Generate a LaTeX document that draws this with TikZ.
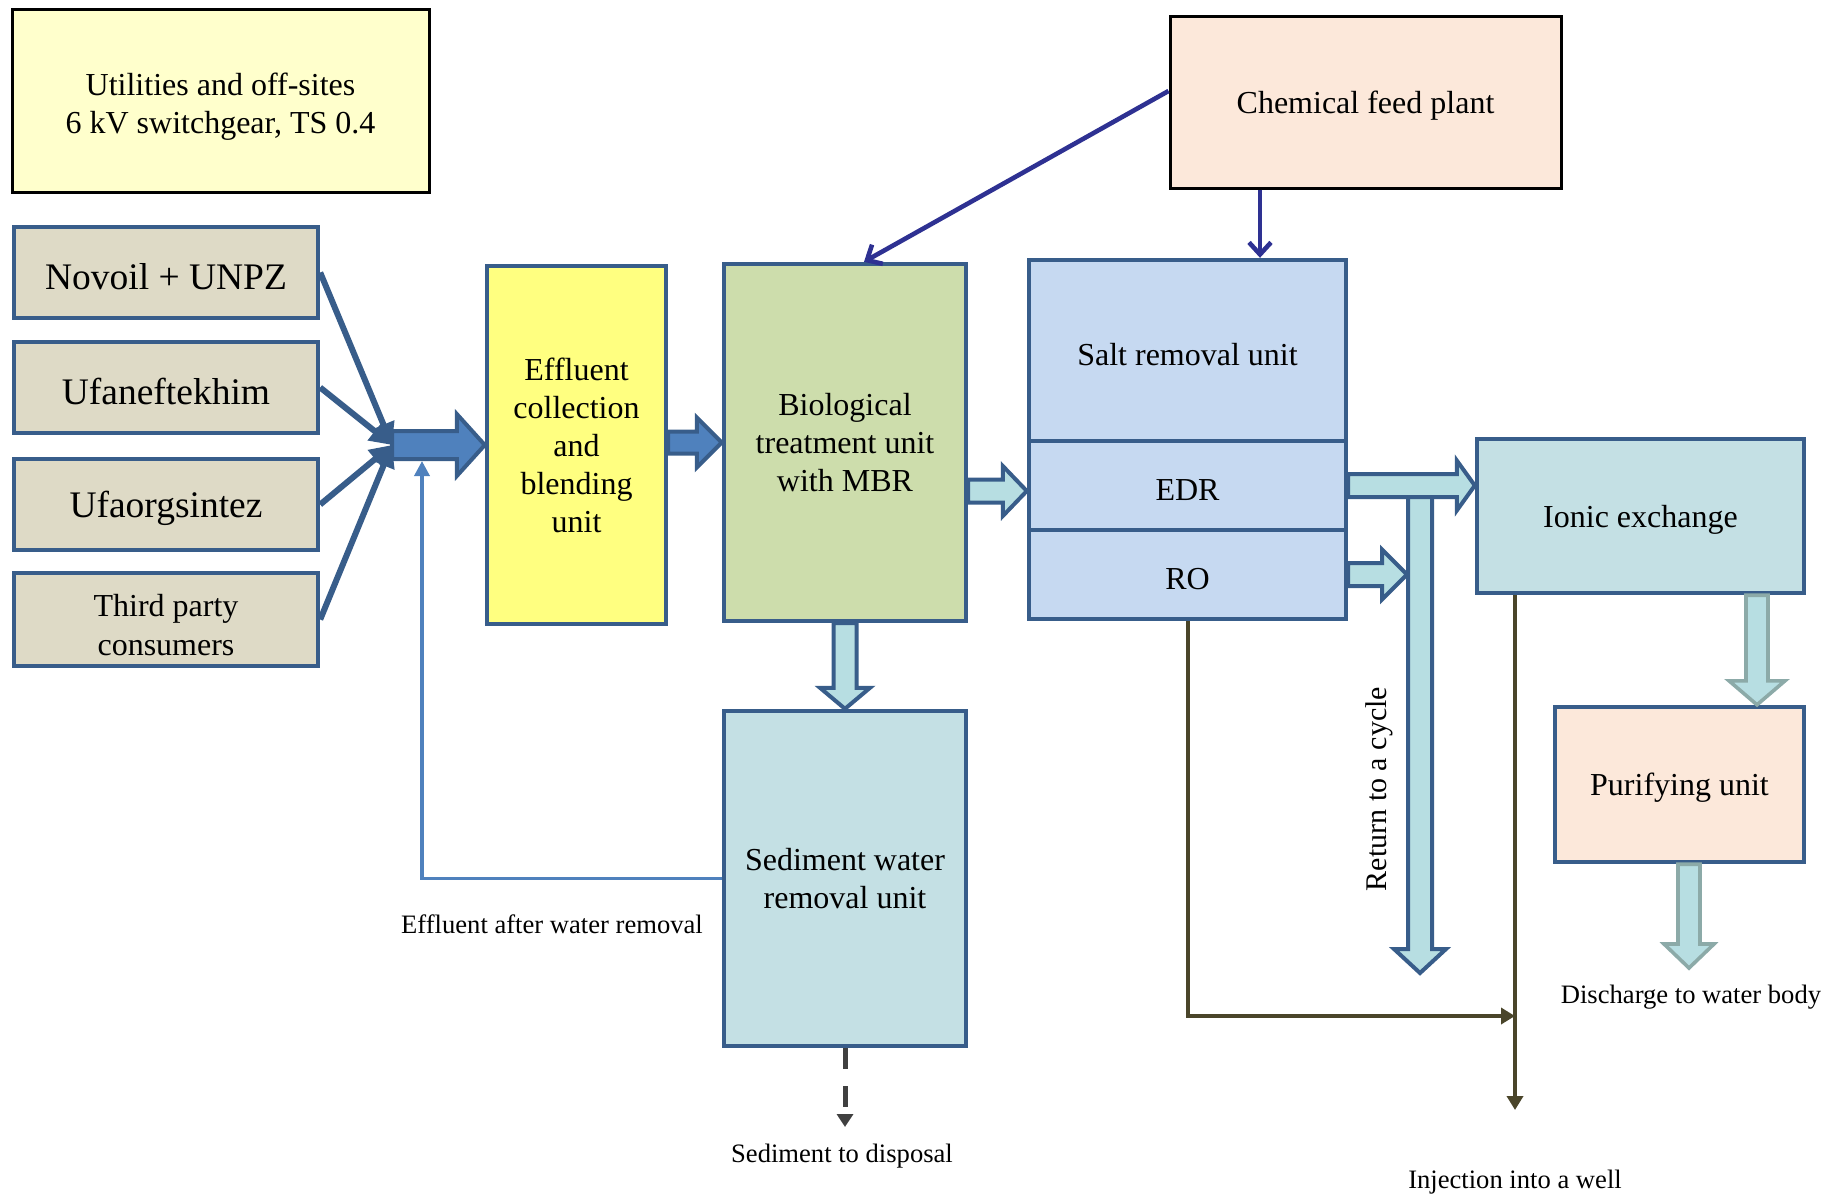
\documentclass[tikz,border=0pt]{standalone}
\usepackage{fontspec}
\setmainfont{Liberation Serif}
\usetikzlibrary{calc,arrows.meta}

\definecolor{boxline}{RGB}{56,93,138}
\definecolor{utilfill}{RGB}{255,255,204}
\definecolor{srcfill}{RGB}{222,218,198}
\definecolor{yelfill}{RGB}{255,255,128}
\definecolor{biofill}{RGB}{205,221,172}
\definecolor{saltfill}{RGB}{198,217,241}
\definecolor{sedfill}{RGB}{196,224,228}
\definecolor{peach}{RGB}{252,232,218}
\definecolor{bluefill}{RGB}{79,129,189}
\definecolor{palefill}{RGB}{183,222,226}
\definecolor{tealedge}{RGB}{140,170,168}
\definecolor{chemblue}{RGB}{46,49,146}
\definecolor{drainbrown}{RGB}{74,69,42}
\definecolor{sedgray}{RGB}{64,64,64}

\begin{document}
\begin{tikzpicture}[x=0.5pt,y=-0.5pt,
  box/.style={draw=boxline,line width=2.2pt,align=center,inner sep=0pt,
    font=\fontsize{16}{19}\selectfont,
    execute at begin node=\rule{0pt}{0.93em}},
  srcbox/.style={box,fill=srcfill,minimum width=152pt,minimum height=45.5pt},
  lbl/.style={font=\fontsize{13.3}{16}\selectfont},
  dark/.style={draw=boxline,line width=2pt,fill=bluefill,line join=miter},
  pale/.style={draw=boxline,line width=2pt,fill=palefill,line join=miter},
  teal/.style={draw=tealedge,line width=1.8pt,fill=palefill,line join=miter},
  feed/.style={draw=boxline,line width=3pt,-{Triangle[length=11pt,width=11pt]}},
  chemline/.style={draw=chemblue,line width=2.3pt,-{Straight Barb[length=6pt,width=11pt]}},
  drain/.style={draw=drainbrown,line width=2pt,-{Triangle[length=7pt,width=8pt]}},
  fbline/.style={draw=bluefill,line width=1.75pt,-{Triangle[length=7.5pt,width=7.5pt]}},
  sedline/.style={draw=sedgray,line width=2.5pt,dash pattern=on 10.5pt off 8.5pt,
    -{Triangle[length=6.5pt,width=8pt]}}
]

% block arrows: style, from, to, shaft half, head half, head length
\newcommand{\rblock}[6]{\draw[#1] let \p1=(#2), \p2=(#3) in
  (\x1,\y1+#4) -- (\x2-#6,\y1+#4) -- (\x2-#6,\y1+#5) -- (\x2,\y1)
  -- (\x2-#6,\y1-#5) -- (\x2-#6,\y1-#4) -- (\x1,\y1-#4) -- cycle;}
\newcommand{\dblock}[6]{\draw[#1] let \p1=(#2), \p2=(#3) in
  (\x1-#4,\y1) -- (\x1-#4,\y2+#6) -- (\x1-#5,\y2+#6) -- (\x1,\y2)
  -- (\x1+#5,\y2+#6) -- (\x1+#4,\y2+#6) -- (\x1+#4,\y1) -- cycle;}

\useasboundingbox (0,0) rectangle (1831,1195);

\node[box,fill=utilfill,draw=black,line width=1.5pt,minimum width=208.5pt,minimum height=91.5pt]
  (util) at (220.5,100.5) {\rule{0pt}{1.1em}Utilities and off-sites\\6 kV switchgear, TS 0.4};

\node[srcbox,font=\fontsize{18.75}{22}\selectfont] (novoil) at (166,272.5) {Novoil + UNPZ};
\node[srcbox,font=\fontsize{18.75}{22}\selectfont] (ufaneft) at (166,387.5) {Ufaneftekhim};
\node[srcbox,font=\fontsize{18.75}{22}\selectfont] (ufaorg) at (166,504.5) {Ufaorgsintez};
\node[srcbox,minimum height=46.5pt,font=\fontsize{16}{19.5}\selectfont] (third) at (166,619.5)
  {\rule{0pt}{1.02em}Third party\\consumers};

\node[box,fill=yelfill,minimum width=89.5pt,minimum height=179pt] (collect) at (576.5,445)
  {Effluent\\collection\\and\\blending\\unit};
\node[box,fill=biofill,minimum width=121pt,minimum height=178.5pt] (bio) at (845,442.5)
  {Biological\\treatment unit\\with MBR};
\node[box,fill=sedfill,minimum width=121pt,minimum height=167.5pt] (sed) at (845,878.5)
  {Sediment water\\removal unit};

\node[box,fill=saltfill,minimum width=158.5pt,minimum height=90.5pt] (salt) at (1187.5,350.5) {Salt removal unit};
\node[box,fill=saltfill,minimum width=158.5pt,minimum height=44.5pt] (edr) at (1187.5,485.5) {EDR};
\node[box,fill=saltfill,minimum width=158.5pt,minimum height=44.5pt] (ro) at (1187.5,574.5) {RO};

\node[box,fill=peach,draw=black,line width=1.5pt,minimum width=195.5pt,minimum height=86pt]
  (chem) at (1365.5,102) {Chemical feed plant};
\node[box,fill=sedfill,minimum width=163.5pt,minimum height=77pt] (ionic) at (1640.5,516) {Ionic exchange};
\node[box,fill=peach,minimum width=124.5pt,minimum height=77.5pt] (purify) at (1679.5,784.5) {Purifying unit};

\node[lbl] (efflbl) at (552,924) {Effluent after water removal};
\node[lbl] (sedlbl) at (842,1156) {Sediment to disposal};
\node[lbl] (dislbl) at (1691,997) {Discharge to water body};
\node[lbl] (injlbl) at (1515,1182) {Injection into a well};
\node[font=\fontsize{15}{18}\selectfont,rotate=90] (retlbl) at (1379,789) {Return to a cycle};

\coordinate (hub) at (392,445);
\coordinate (midflow) at (0,491);
\coordinate (roend) at (1407,574.5);
\coordinate (rtop) at (1420,486);
\coordinate (rbot) at (1420,973);
\coordinate (ipx) at (1757,0);
\coordinate (disend) at (1689,968);
\coordinate (sedend) at (845,1127);
\coordinate (fbtip) at (422,461);
\coordinate (join) at (1515,1016);
\coordinate (wellend) at (1515,1110);
\coordinate (chemx) at (1260,0);

\rblock{dark}{hub}{collect.west |- hub}{7pt}{15.5pt}{14pt}
\draw[feed] (novoil.east) -- (hub);
\draw[feed] (ufaneft.east) -- (hub);
\draw[feed] (ufaorg.east) -- (hub);
\draw[feed] (third.east) -- (hub);

\rblock{dark}{collect.east |- bio.center}{bio.west}{5.5pt}{12.5pt}{12.5pt}
\rblock{pale}{bio.east |- midflow}{salt.west |- midflow}{5.75pt}{12.5pt}{12pt}
\dblock{pale}{bio.south}{sed.north}{5.75pt}{12.5pt}{10.5pt}

\dblock{pale}{rtop}{rbot}{6pt}{13pt}{12pt}
\rblock{pale}{edr.east}{ionic.west |- edr.east}{5.75pt}{12.5pt}{9pt}
\rblock{pale}{ro.east}{roend}{5.75pt}{12.5pt}{12.5pt}

\dblock{teal}{ionic.south -| ipx}{purify.north -| ipx}{5.5pt}{14pt}{12pt}
\dblock{teal}{purify.south -| disend}{disend}{5.5pt}{12.5pt}{12pt}

\draw[fbline] (sed.west) -- (sed.west -| fbtip) -- (fbtip);
\draw[sedline] (sed.south) -- (sedend);

\draw[chemline] ([yshift=5.5pt]chem.west) -- ([xshift=9.5pt]bio.north);
\draw[chemline] (chem.south -| chemx) -- (salt.north -| chemx);

\draw[drain] (ro.south) -- (ro.south |- join) -- (join);
\draw[drain] (ionic.south -| join) -- (wellend);

\end{tikzpicture}
\end{document}
